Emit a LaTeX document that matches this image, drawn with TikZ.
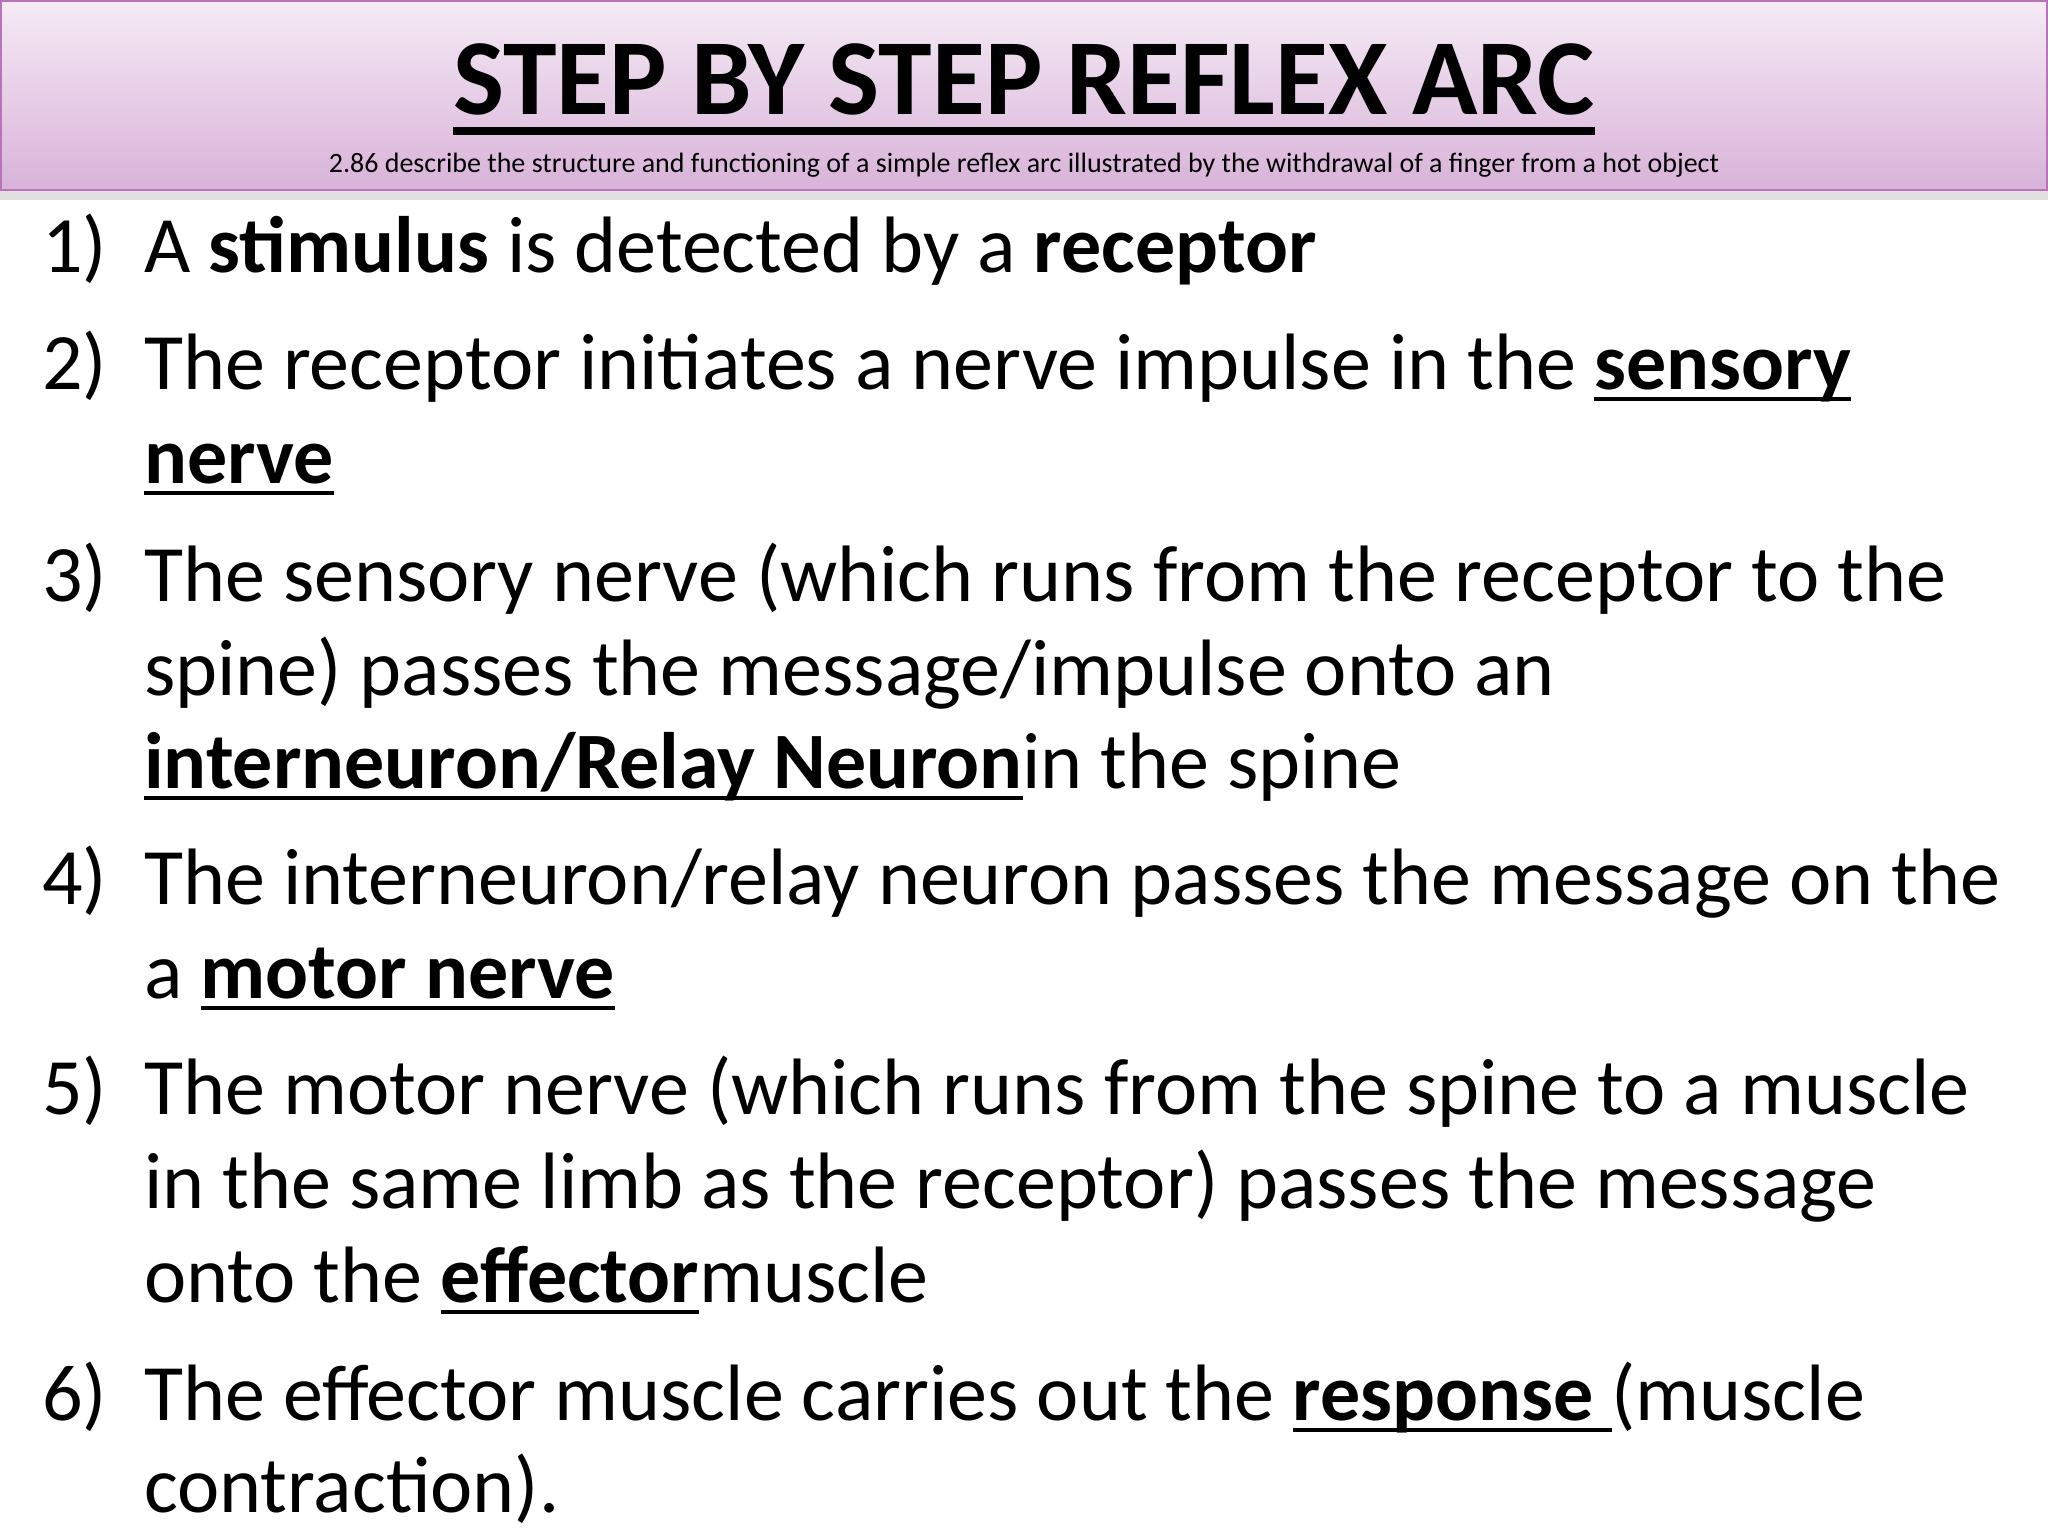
\documentclass[tikz,border=0pt]{standalone}
\usepackage{fontspec}
\setmainfont{Carlito}
\newcommand\myul[1]{\setbox0\hbox{#1}\rlap{\rule[-12pt]{\wd0}{4pt}}\box0}
\newcommand\mytul[1]{\setbox0\hbox{#1}\rlap{\rule[-20pt]{\wd0}{8pt}}\box0}
\begin{document}
\begin{tikzpicture}[x=1pt,y=-1pt,
  body/.style={anchor=base west,inner sep=0pt,font=\fontsize{80}{96}\selectfont},
  num/.style={anchor=base west,inner sep=0pt,font=\fontsize{80}{96}\selectfont}]
\useasboundingbox (0,0) rectangle (2048,1536);
\fill[white] (0,0) rectangle (2048,1536);
\fill[black!12] (0,190) rectangle (2048,200);
\shade[top color=violet!8,bottom color=violet!30,draw=violet!55,line width=2pt] (1,1) rectangle (2047,190);
\node[anchor=base,inner sep=0pt,font=\fontsize{108}{120}\bfseries\selectfont] (title) at (1024,115) {\mytul{STEP BY STEP REFLEX ARC}};
\node[anchor=base,inner sep=0pt,font=\fontsize{28}{32}\selectfont] (sub) at (1024,172) {2.86 describe the structure and functioning of a simple reflex arc illustrated by the withdrawal of a finger from a hot object};
\def\nx{42}\def\tx{144}
\node[num] (n1) at (\nx,272) {1)};
\node[body] (l1) at (\tx,272) {A \textbf{stimulus} is detected by a \textbf{receptor}};
\node[num] (n2) at (\nx,389) {2)};
\node[body] (l2a) at (\tx,389) {The receptor initiates a nerve impulse in the \myul{\textbf{sensory}}};
\node[body] (l2b) at (\tx,483) {\myul{\textbf{nerve}}};
\node[num] (n3) at (\nx,601) {3)};
\node[body] (l3a) at (\tx,601) {The sensory nerve (which runs from the receptor to the};
\node[body] (l3b) at (\tx,695) {spine) passes the message/impulse onto an};
\node[body] (l3c) at (\tx,788) {\myul{\textbf{interneuron/Relay Neuron}} in the spine};
\node[num] (n4) at (\nx,904) {4)};
\node[body] (l4a) at (\tx,904) {The interneuron/relay neuron passes the message on the};
\node[body] (l4b) at (\tx,998) {a \myul{\textbf{motor nerve}}};
\node[num] (n5) at (\nx,1114) {5)};
\node[body] (l5a) at (\tx,1114) {The motor nerve (which runs from the spine to a muscle};
\node[body] (l5b) at (\tx,1208) {in the same limb as the receptor) passes the message};
\node[body] (l5c) at (\tx,1302) {onto the \myul{\textbf{effector}} muscle};
\node[num] (n6) at (\nx,1420) {6)};
\node[body] (l6a) at (\tx,1420) {The effector muscle carries out the \myul{\textbf{response\ }} (muscle};
\node[body] (l6b) at (\tx,1512) {contraction).};
\end{tikzpicture}
\end{document}
